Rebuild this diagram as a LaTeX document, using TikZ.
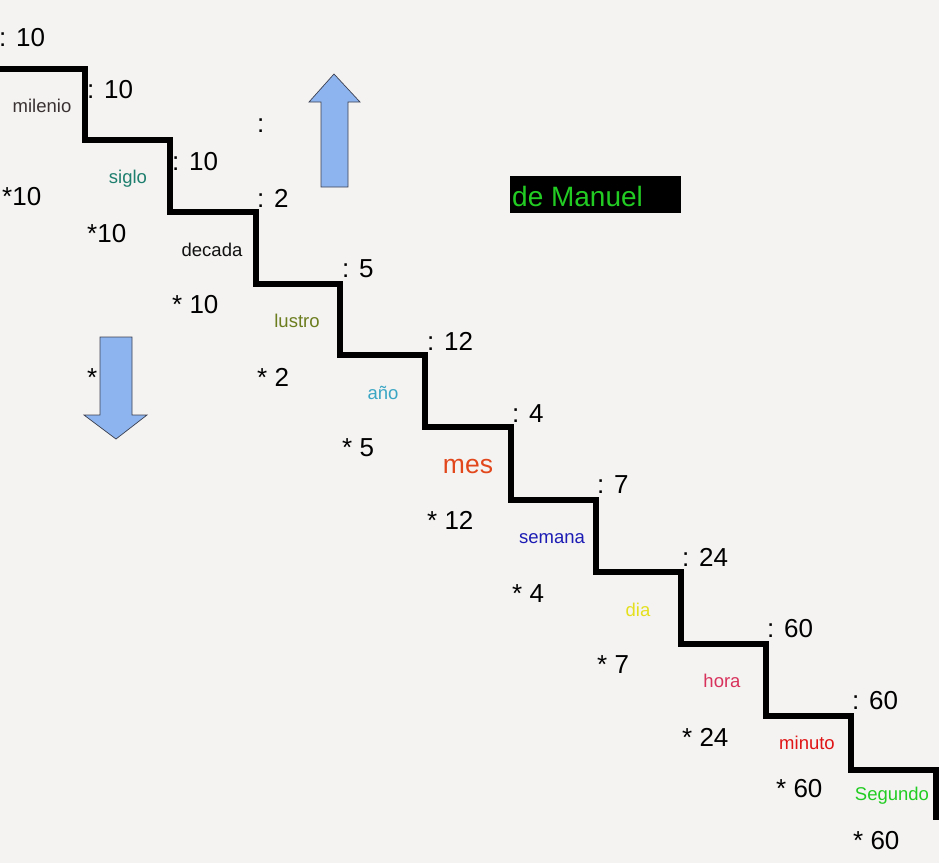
\documentclass[tikz,border=0pt]{standalone}
\usepackage{fontspec}
\setmainfont{Liberation Sans}
\definecolor{bg}{HTML}{F4F3F2}
\definecolor{cmil}{HTML}{3A3232}
\definecolor{csig}{HTML}{1E7F6E}
\definecolor{cdec}{HTML}{111111}
\definecolor{clus}{HTML}{6B7D1E}
\definecolor{cano}{HTML}{3AA6C4}
\definecolor{cmes}{HTML}{E2471C}
\definecolor{csem}{HTML}{1C1CB4}
\definecolor{cdia}{HTML}{E4E01E}
\definecolor{chor}{HTML}{D8325C}
\definecolor{cmin}{HTML}{E01414}
\definecolor{cseg}{HTML}{22CC22}
\definecolor{arrfill}{HTML}{8DB4EE}
\definecolor{arrline}{HTML}{3C4050}
\tikzset{
  num/.style={anchor=base west, inner sep=0pt, font=\fontsize{26}{30}\selectfont, text=black},
  lab/.style={anchor=base, inner sep=0pt, font=\fontsize{18.5}{22}\selectfont},
  stair/.style={line width=5.5pt, line join=miter, line cap=butt},
  bigarrow/.style={fill=arrfill, draw=arrline, line width=0.7pt}
}
\begin{document}
\begin{tikzpicture}[x=1pt,y=-1pt]
\fill[bg] (0,0) rectangle (939,863);
\useasboundingbox (0,0) rectangle (939,863);
% staircase
\draw[stair] (0,69) -- (85,69) -- (85,140) -- (170,140) -- (170,212) -- (256,212) -- (256,284)
  -- (340,284) -- (340,355) -- (425,355) -- (425,427) -- (511,427) -- (511,500)
  -- (596,500) -- (596,572) -- (681,572) -- (681,644) -- (766,644) -- (766,716)
  -- (851,716) -- (851,770) -- (936,770) -- (936,820);
% divisors
\node[num] (d0) at (-1,46) {: 10};
\node[num] (d1) at (87,98) {: 10};
\node[num] (d2) at (172,170) {: 10};
\node[num] (dc) at (257,132) {:};
\node[num] (d3) at (257,207) {: 2};
\node[num] (d4) at (342,277) {: 5};
\node[num] (d5) at (427,350) {: 12};
\node[num] (d6) at (512,422) {: 4};
\node[num] (d7) at (597,493) {: 7};
\node[num] (d8) at (682,566) {: 24};
\node[num] (d9) at (767,637) {: 60};
\node[num] (d10) at (852,709) {: 60};
% multipliers
\node[num] (m0) at (2,205) {*10};
\node[num] (m1) at (87,242) {*10};
\node[num] (m2) at (172,313) {* 10};
\node[num] (mx) at (87,386) {*};
\node[num] (m3) at (257,386) {* 2};
\node[num] (m4) at (342,456) {* 5};
\node[num] (m5) at (427,529) {* 12};
\node[num] (m6) at (512,602) {* 4};
\node[num] (m7) at (597,673) {* 7};
\node[num] (m8) at (682,746) {* 24};
\node[num] (m9) at (776,797) {* 60};
\node[num] (m10) at (853,849) {* 60};
% unit labels
\node[lab, text=cmil] (milenio) at (42,112) {milenio};
\node[lab, text=csig] (siglo) at (128,183) {siglo};
\node[lab, text=cdec] (decada) at (212,256) {decada};
\node[lab, text=clus] (lustro) at (297,327) {lustro};
\node[lab, text=cano] (ano) at (383,399) {año};
\node[lab, text=cmes, font=\fontsize{26.5}{30}\selectfont] (mes) at (468,473) {mes};
\node[lab, text=csem] (semana) at (552,543) {semana};
\node[lab, text=cdia] (dia) at (638,616) {dia};
\node[lab, text=chor] (hora) at (722,687) {hora};
\node[lab, text=cmin] (minuto) at (807,749) {minuto};
\node[lab, text=cseg] (segundo) at (892,800) {Segundo};
% arrows
\draw[bigarrow] (321,187) -- (321,102) -- (309,102) -- (334,74) -- (360,102) -- (348,102) -- (348,187) -- cycle;
\draw[bigarrow] (100,337) -- (100,415) -- (84,415) -- (116,439) -- (147,415) -- (132,415) -- (132,337) -- cycle;
% title box
\fill[black] (510,176) rectangle (681,213);
\node[anchor=base west, inner sep=0pt, font=\fontsize{28}{32}\selectfont, text=cseg] (manuel) at (512,206) {de Manuel};
\end{tikzpicture}
\end{document}
